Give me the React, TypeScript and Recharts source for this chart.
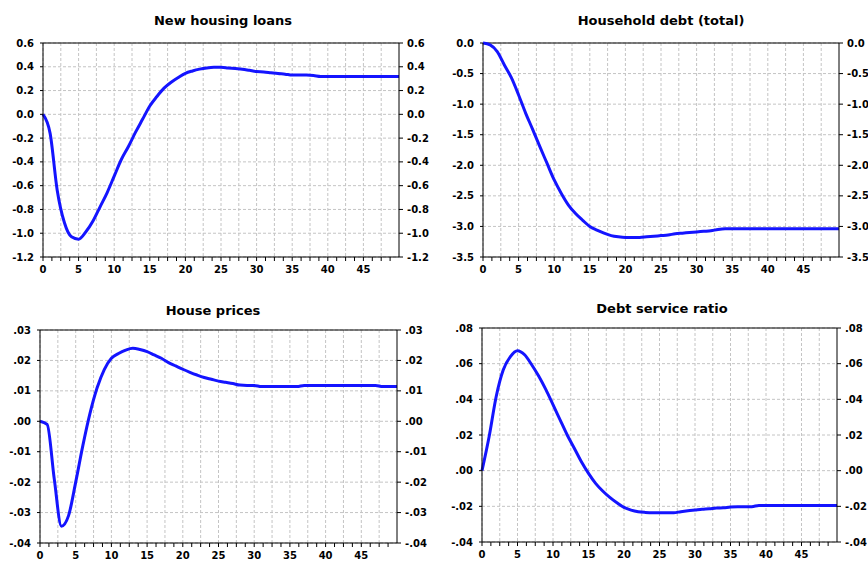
import React from 'react';
import {
  LineChart,
  Line,
  XAxis,
  YAxis,
  CartesianGrid,
  ReferenceLine,
} from 'recharts';

// impulse responses, periods 0..50
const periods = Array.from({ length: 51 }, (_, i) => i);

const newHousingLoans = [
  0, -0.16, -0.64, -0.91, -1.03, -1.05, -0.99, -0.9, -0.78, -0.66,
  -0.52, -0.38, -0.27, -0.15, -0.04, 0.07, 0.15, 0.22, 0.27, 0.31,
  0.345, 0.365, 0.38, 0.39, 0.395, 0.395, 0.39, 0.385, 0.38, 0.37,
  0.36, 0.357, 0.35, 0.343, 0.338, 0.33, 0.33, 0.33, 0.326, 0.318,
  0.318, 0.318, 0.318, 0.318, 0.318, 0.318, 0.318, 0.318, 0.318, 0.318,
  0.318,
];

const householdDebt = [
  0, -0.03, -0.14, -0.36, -0.57, -0.85, -1.15, -1.42, -1.7, -1.97,
  -2.24, -2.46, -2.65, -2.79, -2.9, -3.0, -3.06, -3.11, -3.15, -3.17,
  -3.18, -3.18, -3.18, -3.17, -3.16, -3.15, -3.14, -3.12, -3.11, -3.1,
  -3.09, -3.08, -3.07, -3.05, -3.04, -3.04, -3.04, -3.04, -3.04, -3.04,
  -3.04, -3.04, -3.04, -3.04, -3.04, -3.04, -3.04, -3.04, -3.04, -3.04,
  -3.04,
];

const housePrices = [
  0, -0.001, -0.019, -0.0345, -0.031, -0.02, -0.008, 0.0026, 0.011, 0.017,
  0.0207, 0.0223, 0.0234, 0.024, 0.0236, 0.0229, 0.0218, 0.0207, 0.0193, 0.0182,
  0.0171, 0.0161, 0.0152, 0.0144, 0.0138, 0.0132, 0.0128, 0.0124, 0.0119, 0.0118,
  0.0118, 0.0114, 0.0114, 0.0114, 0.0114, 0.0114, 0.0114, 0.0118, 0.0118, 0.0118,
  0.0118, 0.0118, 0.0118, 0.0118, 0.0118, 0.0118, 0.0118, 0.0118, 0.0114, 0.0114,
  0.0114,
];

const debtServiceRatio = [
  0, 0.019, 0.0416, 0.0566, 0.064, 0.0673, 0.065, 0.0594, 0.0529, 0.0454,
  0.037, 0.0285, 0.02, 0.0126, 0.005, -0.0015, -0.0071, -0.0114, -0.015, -0.018,
  -0.0206, -0.0221, -0.023, -0.0234, -0.0236, -0.0236, -0.0236, -0.0236, -0.023, -0.0225,
  -0.0221, -0.0217, -0.0214, -0.021, -0.0208, -0.0204, -0.0202, -0.0202, -0.0202, -0.0195,
  -0.0195, -0.0195, -0.0195, -0.0195, -0.0195, -0.0195, -0.0195, -0.0195, -0.0195, -0.0195,
  -0.0195,
];

// axis ticks
const xLabels = [0, 5, 10, 15, 20, 25, 30, 35, 40, 45];
const xMinorTicks = Array.from({ length: 40 }, (_, i) => i * 1.25);
const xGridLines = Array.from({ length: 20 }, (_, i) => i * 2.5);

const loansTicks = [-1.2, -1.0, -0.8, -0.6, -0.4, -0.2, 0.0, 0.2, 0.4, 0.6];
const debtTicks = [-3.5, -3.0, -2.5, -2.0, -1.5, -1.0, -0.5, 0.0];
const pricesTicks = [-0.04, -0.03, -0.02, -0.01, 0.0, 0.01, 0.02, 0.03];
const dsrTicks = [-0.04, -0.02, 0.0, 0.02, 0.04, 0.06, 0.08];

const FONT = '"DejaVu Sans", Verdana, sans-serif';
const BLUE = '#1414ff';

const oneDecimal = (v: number) => v.toFixed(1);
const noLeadingZero = (v: number) => v.toFixed(2).replace(/^(-?)0\./, '$1.');

const tickStyle = { fontSize: 10, fontWeight: 700, fill: '#000', fontFamily: FONT };

const XTick = (props: any) => {
  const { x, y, payload } = props;
  if (!xLabels.includes(payload.value)) return <g />;
  return (
    <text x={x} y={y} dy="0.71em" textAnchor="middle" {...tickStyle}>
      {payload.value}
    </text>
  );
};

interface PanelProps {
  title: string;
  titleX: number;
  titleY: number;
  values: number[];
  ticks: number[];
  fmt: (v: number) => string;
  plotLeft: number;
  plotTop: number;
  plotW: number;
  plotH: number;
}

const LEFT_W = 43;
const RIGHT_W = 40;
const X_H = 20;
const TOP_PAD = 8;

const Panel: React.FC<PanelProps> = ({
  title, titleX, titleY, values, ticks, fmt, plotLeft, plotTop, plotW, plotH,
}) => {
  const data = periods.map((t, i) => ({ t, v: values[i] }));
  const domain = [ticks[0], ticks[ticks.length - 1]];
  return (
    <>
      <div
        style={{
          position: 'absolute',
          left: titleX - 150,
          top: titleY - 9,
          width: 300,
          textAlign: 'center',
          fontFamily: FONT,
          fontWeight: 700,
          fontSize: 13,
          lineHeight: '18px',
          color: '#000',
        }}
      >
        {title}
      </div>
      <div style={{ position: 'absolute', left: plotLeft - LEFT_W, top: plotTop - TOP_PAD }}>
        <LineChart
          width={LEFT_W + plotW + RIGHT_W}
          height={TOP_PAD + plotH + X_H}
          data={data}
          margin={{ top: TOP_PAD, right: 0, bottom: 0, left: 0 }}
        >
          <CartesianGrid
            yAxisId="left"
            stroke="#c4c4c4"
            strokeDasharray="3 2"
            verticalValues={xGridLines}
          />
          <XAxis
            dataKey="t"
            type="number"
            domain={[0, 50]}
            ticks={xMinorTicks}
            interval={0}
            height={X_H}
            stroke="#000"
            tickSize={4}
            tickMargin={5}
            tick={<XTick />}
          />
          <YAxis
            yAxisId="left"
            width={LEFT_W}
            domain={domain}
            ticks={ticks}
            interval={0}
            tickFormatter={fmt}
            stroke="#000"
            tickSize={3}
            tickMargin={6}
            tick={tickStyle}
          />
          <YAxis
            yAxisId="right"
            orientation="right"
            width={RIGHT_W}
            domain={domain}
            ticks={ticks}
            interval={0}
            tickFormatter={fmt}
            stroke="#000"
            tickSize={4}
            tickMargin={4}
            tick={{ ...tickStyle, textAnchor: 'start' }}
          />
          <ReferenceLine yAxisId="left" y={domain[1]} stroke="#000" strokeWidth={1} />
          {/* same series mapped to the right axis so it gets drawn */}
          <Line
            yAxisId="right"
            type="monotone"
            dataKey="v"
            stroke="none"
            dot={false}
            activeDot={false}
            isAnimationActive={false}
          />
          <Line
            yAxisId="left"
            type="monotone"
            dataKey="v"
            stroke={BLUE}
            strokeWidth={3}
            dot={false}
            isAnimationActive={false}
          />
        </LineChart>
      </div>
    </>
  );
};

export default function App() {
  return (
    <div
      style={{
        position: 'fixed',
        left: 0,
        top: 0,
        width: 868,
        height: 561,
        overflow: 'hidden',
        background: '#fff',
      }}
    >
      <Panel
        title="New housing loans"
        titleX={223}
        titleY={21}
        values={newHousingLoans}
        ticks={loansTicks}
        fmt={oneDecimal}
        plotLeft={43}
        plotTop={43}
        plotW={356}
        plotH={214}
      />
      <Panel
        title="Household debt (total)"
        titleX={661}
        titleY={21}
        values={householdDebt}
        ticks={debtTicks}
        fmt={oneDecimal}
        plotLeft={483}
        plotTop={43}
        plotW={356}
        plotH={214}
      />
      <Panel
        title="House prices"
        titleX={213}
        titleY={311}
        values={housePrices}
        ticks={pricesTicks}
        fmt={noLeadingZero}
        plotLeft={40}
        plotTop={330}
        plotW={357}
        plotH={213}
      />
      <Panel
        title="Debt service ratio"
        titleX={662}
        titleY={309}
        values={debtServiceRatio}
        ticks={dsrTicks}
        fmt={noLeadingZero}
        plotLeft={482}
        plotTop={328}
        plotW={355}
        plotH={214}
      />
    </div>
  );
}
